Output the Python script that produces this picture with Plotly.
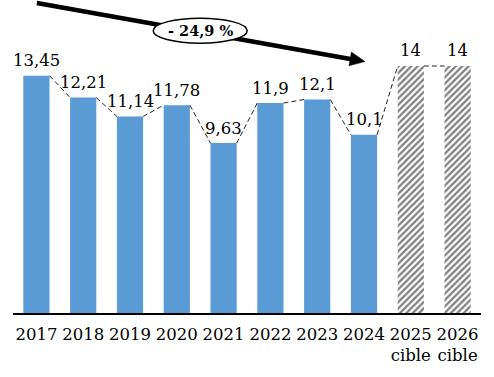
import numpy as np
import plotly.graph_objects as go

years = ["2017", "2018", "2019", "2020", "2021", "2022", "2023", "2024", "2025<br>cible", "2026<br>cible"]
values = [13.45, 12.21, 11.14, 11.78, 9.63, 11.9, 12.1, 10.1, 14, 14]
is_target = [False] * 8 + [True, True]
change_label = "- 24,9 %"

FONT = "DejaVu Serif"
FS = 16.5
BAR_W = 0.56
BLUE = "#5B9BD5"

# layout geometry (pixels)
W, H = 494, 377
ML, MR, MT, MB = 13, 13, 0, 64
plot_w = W - ML - MR
plot_h = H - MT - MB
x_range = [-0.5, len(years) - 0.5]
y_max = 17.74
y_range = [0, y_max]
px_x = plot_w / (x_range[1] - x_range[0])
px_y = plot_h / (y_range[1] - y_range[0])

idx = np.arange(len(years))
vals = np.array(values, dtype=float)
actual = ~np.array(is_target)
target = np.array(is_target)

fig = go.Figure()

fig.add_trace(go.Bar(
    x=idx[actual], y=vals[actual], width=BAR_W,
    marker=dict(color=BLUE, line=dict(width=0)),
    hoverinfo="skip",
))
fig.add_trace(go.Bar(
    x=idx[target], y=vals[target], width=BAR_W,
    marker=dict(color="white", line=dict(width=0),
                pattern=dict(shape="/", fgcolor="black", bgcolor="white", size=4.5, solidity=0.5)),
    hoverinfo="skip",
))

# dashed connectors between bar tops
cx, cy = [], []
for i in range(len(vals) - 1):
    cx += [idx[i] + BAR_W / 2, idx[i + 1] - BAR_W / 2, None]
    cy += [vals[i], vals[i + 1], None]
fig.add_trace(go.Scatter(
    x=cx, y=cy, mode="lines",
    line=dict(color="#222222", width=1, dash="5px,3px"),
    hoverinfo="skip",
))

# value labels
for i, v in zip(idx, vals):
    fig.add_annotation(
        x=i, y=v, text=f"{v:g}".replace(".", ","), showarrow=False,
        yanchor="middle", yshift=15,
        font=dict(family=FONT, size=FS, color="black"),
    )

# trend arrow (start above first bar, tip beyond 2024)
start = (0.01, 17.57)
tip = (7.02, 14.25)
dxp = (tip[0] - start[0]) * px_x
dyp = (tip[1] - start[1]) * px_y
L = np.hypot(dxp, dyp)
u = np.array([dxp, dyp]) / L
n = np.array([-u[1], u[0]])
head_len, head_half = 15, 7
line_end = (tip[0] - u[0] * (head_len - 3) / px_x, tip[1] - u[1] * (head_len - 3) / px_y)

fig.add_shape(type="line", x0=start[0], y0=start[1], x1=line_end[0], y1=line_end[1],
              line=dict(color="black", width=4.5), layer="above")
base = -u * head_len
p1 = base + n * head_half
p2 = base - n * head_half
path = f"M 0 0 L {p1[0]:.2f} {p1[1]:.2f} L {p2[0]:.2f} {p2[1]:.2f} Z"
fig.add_shape(type="path", path=path, xsizemode="pixel", ysizemode="pixel",
              xanchor=tip[0], yanchor=tip[1],
              fillcolor="black", line=dict(color="black", width=0.5), layer="above")

# ellipse with label
ell_x, ell_y = 3.5, 16.0
fig.add_shape(type="circle", xsizemode="pixel", ysizemode="pixel",
              xanchor=ell_x, yanchor=ell_y, x0=-47, x1=47, y0=-12.5, y1=12.5,
              fillcolor="white", line=dict(color="black", width=1.5), layer="above")
fig.add_annotation(x=ell_x, y=ell_y, text=f"<b>{change_label}</b>", showarrow=False,
                   font=dict(family=FONT, size=14.5, color="black"))

fig.update_layout(
    width=W, height=H,
    margin=dict(l=ML, r=MR, t=MT, b=MB),
    paper_bgcolor="white", plot_bgcolor="white",
    showlegend=False, barmode="overlay",
    font=dict(family=FONT, size=FS, color="black"),
)
fig.update_xaxes(
    range=x_range, tickmode="array", tickvals=idx, ticktext=years, tickangle=0,
    showgrid=False, zeroline=False, showline=True, linecolor="black", linewidth=2,
    ticks="", ticklabelstandoff=5, tickfont=dict(family=FONT, size=FS, color="black"),
)
fig.update_yaxes(range=y_range, visible=False, showgrid=False, zeroline=False)

fig.write_html("out.html")
